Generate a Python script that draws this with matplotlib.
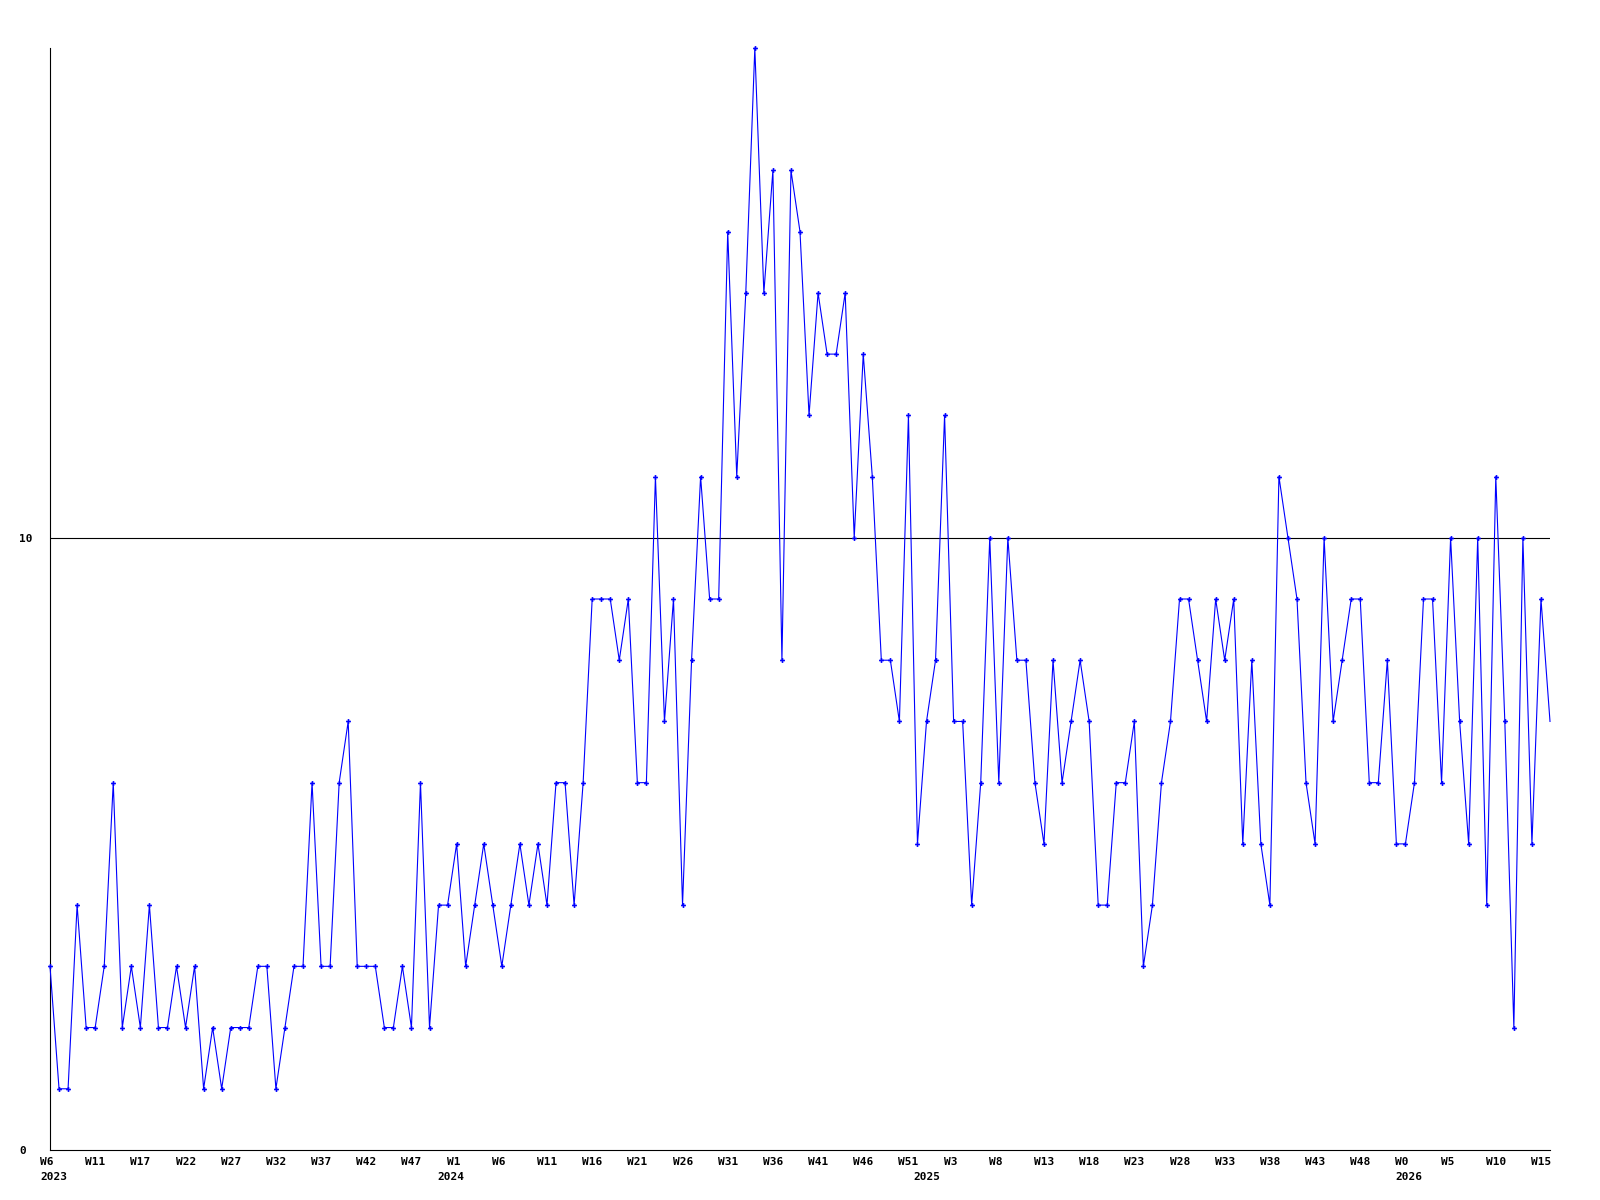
import numpy as np
import matplotlib
matplotlib.use('Agg')
import matplotlib.pyplot as plt

# valores semanales (conteo por semana), 2023 W6 -> 2026 W15
valores = [3, 1, 1, 4, 2, 2, 3, 6, 2, 3, 2, 4, 2, 2, 3, 2, 3, 1, 2, 1,
           2, 2, 2, 3, 3, 1, 2, 3, 3, 6, 3, 3, 6, 7, 3, 3, 3, 2, 2, 3,
           2, 6, 2, 4, 4, 5, 3, 4, 5, 4, 3, 4, 5, 4, 5, 4, 6, 6, 4, 6,
           9, 9, 9, 8, 9, 6, 6, 11, 7, 9, 4, 8, 11, 9, 9, 15, 11, 14, 18, 14,
           16, 8, 16, 15, 12, 14, 13, 13, 14, 10, 13, 11, 8, 8, 7, 12, 5, 7, 8, 12,
           7, 7, 4, 6, 10, 6, 10, 8, 8, 6, 5, 8, 6, 7, 8, 7, 4, 4, 6, 6,
           7, 3, 4, 6, 7, 9, 9, 8, 7, 9, 8, 9, 5, 8, 5, 4, 11, 10, 9, 6,
           5, 10, 7, 8, 9, 9, 6, 6, 8, 5, 5, 6, 9, 9, 6, 10, 7, 5, 10, 4,
           11, 7, 2, 10, 5, 9, 7]

# etiquetas del eje x (cada 5 semanas)
semanas = ['W6', 'W11', 'W17', 'W22', 'W27', 'W32', 'W37', 'W42', 'W47',
           'W1', 'W6', 'W11', 'W16', 'W21', 'W26', 'W31', 'W36', 'W41',
           'W46', 'W51', 'W3', 'W8', 'W13', 'W18', 'W23', 'W28', 'W33',
           'W38', 'W43', 'W48', 'W0', 'W5', 'W10', 'W15']
pos_semanas = list(range(0, 5 * len(semanas), 5))

anios = ['2023', '2024', '2025', '2026']
pos_anios = [0, 44, 96.7, 150]

x = np.arange(len(valores))

fig = plt.figure(figsize=(16, 12), dpi=100)
ax = fig.add_axes([50 / 1600, 50 / 1200, 1500 / 1600, 1102 / 1200])

ax.axhline(10, color='black', lw=0.8, zorder=1)
ax.plot(x, valores, color='#0000ff', lw=0.8, marker='P', ms=3.5, mew=0,
        markevery=list(range(len(valores) - 1)), zorder=3, clip_on=False)

ax.set_xlim(0, len(valores) - 1)
ax.set_ylim(0, 18)

for lado in ['top', 'right']:
    ax.spines[lado].set_visible(False)
for lado in ['left', 'bottom']:
    ax.spines[lado].set_linewidth(0.8)

fuente = dict(family='DejaVu Sans Mono', fontweight='bold', fontsize=8)

# eje y: solo 0 y 10, alineados a la izquierda
ax.set_yticks([0, 10])
ax.set_yticklabels(['0', '10'], ha='left', **fuente)
ax.tick_params(axis='y', length=0, pad=22)

# eje x: etiquetas de semana y de año
ax.set_xticks([])
for s, p in zip(semanas, pos_semanas):
    ax.annotate(s, (p, 0), xycoords='data', xytext=(-10, -7),
                textcoords='offset pixels', ha='left', va='top', **fuente)
for a, p in zip(anios, pos_anios):
    ax.annotate(a, (p, 0), xycoords='data', xytext=(-10, -22),
                textcoords='offset pixels', ha='left', va='top', **fuente)

plt.savefig('out.png', dpi=100)
